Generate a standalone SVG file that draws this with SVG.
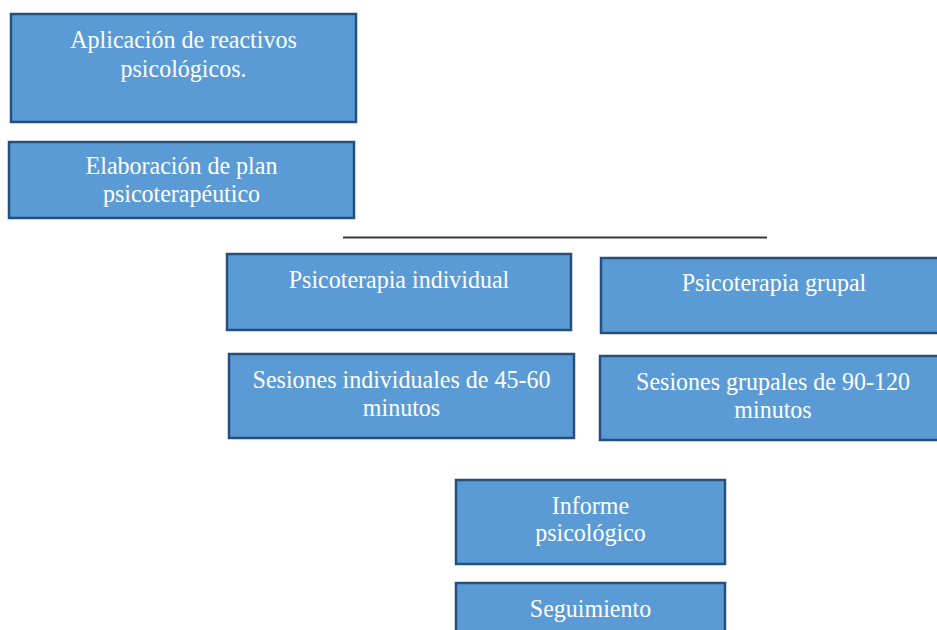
<svg xmlns="http://www.w3.org/2000/svg" width="937" height="630" viewBox="0 0 937 630">
<style>
.box{fill:#5B9BD5;stroke:#264F7E;stroke-width:2.5}
.t{font-family:'Liberation Serif','Times New Roman',serif;font-size:24px;fill:#FFFFFF;text-anchor:middle}
.conn{stroke:#3A3A3A;stroke-width:2;fill:none}
</style>
<rect width="937" height="630" fill="#FFFFFF"/>
<g id="connectors">
<line class="conn" x1="343" y1="237.5" x2="767" y2="237.5"/>
</g>
<g id="aplicacion">
<rect class="box" x="11" y="14" width="345" height="108"/>
<text class="t" transform="translate(183.5 48) scale(1 1.08)">Aplicación de reactivos</text>
<text class="t" transform="translate(183.5 77) scale(1 1.08)">psicológicos.</text>
</g>
<g id="elaboracion">
<rect class="box" x="9" y="142" width="345" height="76"/>
<text class="t" transform="translate(181.5 174) scale(1 1.08)">Elaboración de plan</text>
<text class="t" transform="translate(181.5 202) scale(1 1.08)">psicoterapéutico</text>
</g>
<g id="individual">
<rect class="box" x="227" y="254" width="344" height="76"/>
<text class="t" transform="translate(399 288) scale(1 1.08)">Psicoterapia individual</text>
</g>
<g id="grupal">
<rect class="box" x="601" y="258" width="345" height="75"/>
<text class="t" transform="translate(774 291) scale(1 1.08)">Psicoterapia grupal</text>
</g>
<g id="sesiones-individuales">
<rect class="box" x="229" y="354" width="345" height="84"/>
<text class="t" transform="translate(401.5 388) scale(1 1.08)">Sesiones individuales de 45-60</text>
<text class="t" transform="translate(401.5 416) scale(1 1.08)">minutos</text>
</g>
<g id="sesiones-grupales">
<rect class="box" x="600" y="356" width="346" height="84"/>
<text class="t" transform="translate(773 390) scale(1 1.08)">Sesiones grupales de 90-120</text>
<text class="t" transform="translate(773 418) scale(1 1.08)">minutos</text>
</g>
<g id="informe">
<rect class="box" x="456" y="480" width="269" height="84"/>
<text class="t" transform="translate(590.5 514) scale(1 1.08)">Informe</text>
<text class="t" transform="translate(590.5 541) scale(1 1.08)">psicológico</text>
</g>
<g id="seguimiento">
<rect class="box" x="456" y="583" width="269" height="60"/>
<text class="t" transform="translate(590.5 617) scale(1 1.08)">Seguimiento</text>
</g>
</svg>
